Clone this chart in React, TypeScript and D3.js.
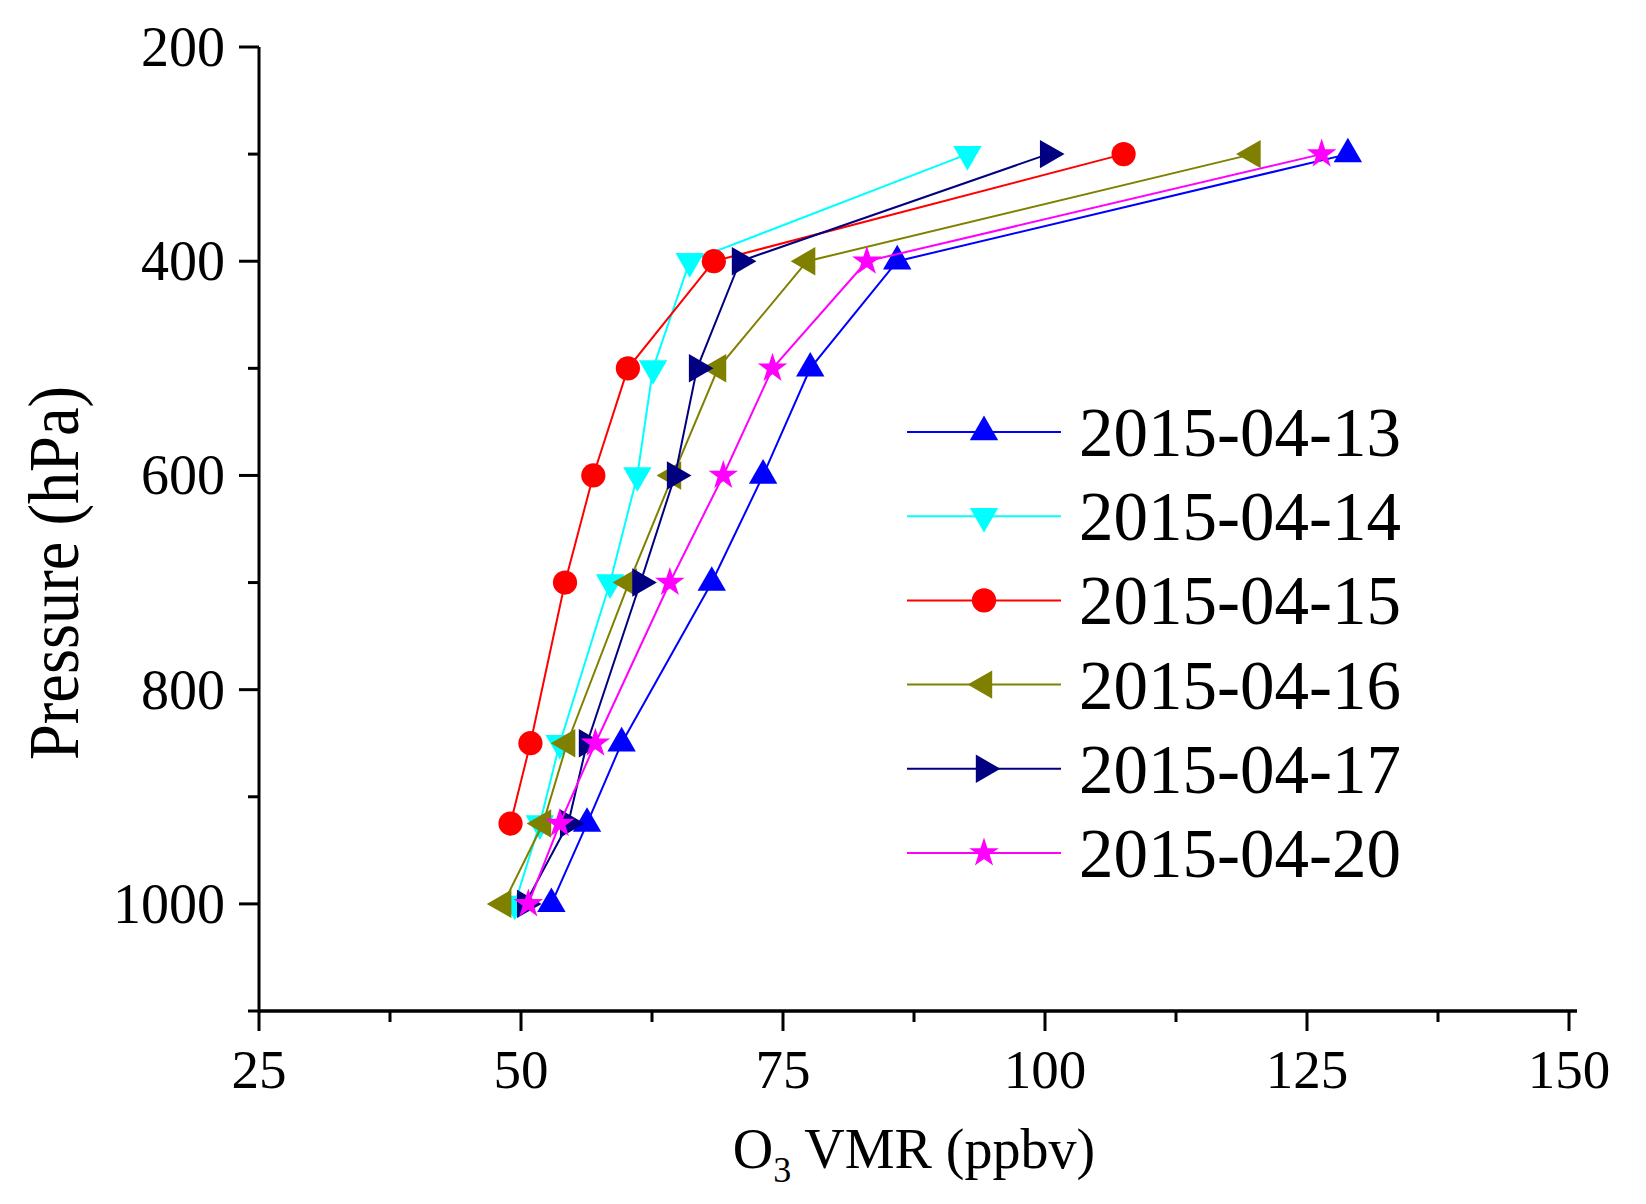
import * as d3 from 'd3'

const levels = [300, 400, 500, 600, 700, 850, 925, 1000]

const o3_0413 = [128.9, 85.9, 77.6, 73.1, 68.2, 59.6, 56.3, 52.9]
const o3_0414 = [92.6, 66.1, 62.6, 61.1, 58.5, 53.7, 51.8, 49.4]
const o3_0415 = [107.5, 68.4, 60.2, 56.9, 54.2, 50.9, 49.0]
const o3_0416 = [119.8, 77.3, 68.8, 64.5, 60.3, 54.4, 52.1, 48.3]
const o3_0417 = [100.3, 70.9, 66.8, 64.7, 61.4, 56.3, 54.5, 50.4]
const o3_0420 = [126.4, 83.0, 74.0, 69.3, 64.2, 57.1, 53.7, 50.7]

const seriesNames = ['2015-04-13', '2015-04-14', '2015-04-15', '2015-04-16', '2015-04-17', '2015-04-20']
const seriesValues = [o3_0413, o3_0414, o3_0415, o3_0416, o3_0417, o3_0420]
const seriesColors = ['#0000ff', '#00ffff', '#ff0000', '#808000', '#000080', '#ff00ff']
// marker kind: triangle pointing up / down / left / right, circle, star
const seriesMarkers = ['up', 'down', 'circle', 'left', 'right', 'star']

const xMajor = [25, 50, 75, 100, 125, 150]
const xMinor = [37.5, 62.5, 87.5, 112.5, 137.5]
const yMajor = [200, 400, 600, 800, 1000]
const yMinor = [300, 500, 700, 900, 1100]

const FONT = '"Liberation Serif", "Times New Roman", serif'

const x = d3.scaleLinear().domain([25, 150]).range([259, 1569])
const y = d3.scaleLinear().domain([200, 1100]).range([47, 1011])

const triPath = d3.symbol(d3.symbolTriangle, 350)()
const circlePath = d3.symbol(d3.symbolCircle, 460)()
const starPath = d3.symbol(d3.symbolStar, 270)()

function Marker({ kind, color, cx, cy }: { kind: string; color: string; cx: number; cy: number }) {
  let d = triPath
  let rot = 0
  if (kind === 'down') rot = 180
  if (kind === 'left') rot = -90
  if (kind === 'right') rot = 90
  if (kind === 'circle') d = circlePath
  if (kind === 'star') d = starPath
  return <path d={d || ''} fill={color} transform={`translate(${cx},${cy}) rotate(${rot})`} />
}

export default function App() {
  const line = d3
    .line<[number, number]>()
    .x((d) => x(d[0]))
    .y((d) => y(d[1]))

  const legendY = d3.scalePoint<string>().domain(seriesNames).range([432, 853])

  return (
    <svg
      width={1646}
      height={1204}
      style={{ position: 'absolute', left: 0, top: 0, background: '#fff' }}
      fontFamily={FONT}
    >
      <rect width={1646} height={1204} fill="#fff" />

      {/* axes */}
      <line x1={x(25)} x2={x(150) + 8} y1={y(1100)} y2={y(1100)} stroke="#000" strokeWidth={3.5} />
      <line x1={x(25)} x2={x(25)} y1={y(200)} y2={y(1100)} stroke="#000" strokeWidth={3} />
      {xMajor.map((v) => (
        <g key={'xm' + v}>
          <line x1={x(v)} x2={x(v)} y1={y(1100)} y2={y(1100) + 20} stroke="#000" strokeWidth={3} />
          <text x={x(v)} y={1088} textAnchor="middle" fontSize={55}>
            {v}
          </text>
        </g>
      ))}
      {xMinor.map((v) => (
        <line key={'xn' + v} x1={x(v)} x2={x(v)} y1={y(1100)} y2={y(1100) + 11} stroke="#000" strokeWidth={3} />
      ))}
      {yMajor.map((v) => (
        <g key={'ym' + v}>
          <line x1={x(25) - 20} x2={x(25)} y1={y(v)} y2={y(v)} stroke="#000" strokeWidth={3} />
          <text x={225} y={y(v) + 19} textAnchor="end" fontSize={56}>
            {v}
          </text>
        </g>
      ))}
      {yMinor.map((v) => (
        <line key={'yn' + v} x1={x(25) - 11} x2={x(25)} y1={y(v)} y2={y(v)} stroke="#000" strokeWidth={3} />
      ))}

      {/* axis titles */}
      <text x={914} y={1168} textAnchor="middle" fontSize={56}>
        O<tspan fontSize={36} dy={14}>3</tspan>
        <tspan dy={-14}> VMR (ppbv)</tspan>
      </text>
      <text
        transform="translate(78,573) rotate(-90)"
        textAnchor="middle"
        fontSize={71}
        textLength={374}
        lengthAdjust="spacingAndGlyphs"
      >
        Pressure (hPa)
      </text>

      {/* series */}
      {seriesValues.map((vals, i) => {
        const pts: [number, number][] = vals.map((v, j) => [v, levels[j]])
        return (
          <g key={seriesNames[i]}>
            <path d={line(pts) || ''} fill="none" stroke={seriesColors[i]} strokeWidth={2} />
            {pts.map((p, j) => (
              <Marker key={j} kind={seriesMarkers[i]} color={seriesColors[i]} cx={x(p[0])} cy={y(p[1])} />
            ))}
          </g>
        )
      })}

      {/* legend */}
      {seriesNames.map((name, i) => {
        const ly = legendY(name) || 0
        return (
          <g key={'lg' + name}>
            <line x1={907} x2={1061} y1={ly} y2={ly} stroke={seriesColors[i]} strokeWidth={2} />
            <Marker kind={seriesMarkers[i]} color={seriesColors[i]} cx={984} cy={ly} />
            <text x={1079} y={ly + 24} fontSize={69} textLength={322} lengthAdjust="spacingAndGlyphs">
              {name}
            </text>
          </g>
        )
      })}
    </svg>
  )
}
